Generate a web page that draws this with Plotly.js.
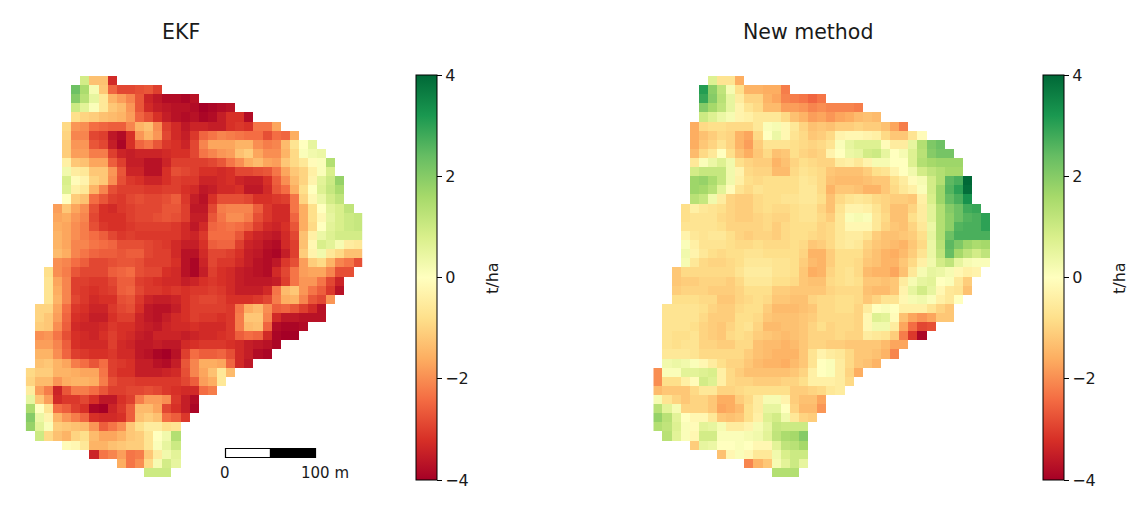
<!DOCTYPE html>
<html><head><meta charset="utf-8">
<script src="https://cdn.plot.ly/plotly-3.0.1.min.js"></script>
<style>html,body{margin:0;padding:0;background:#fff}#p{width:1134px;height:512px}</style></head>
<body><div id="p"></div>
<script>
const rowStart=[6,5,5,5,5,4,4,4,4,4,4,4,4,4,3,3,3,3,3,3,3,2,2,2,2,1,1,1,1,1,1,1,0,0,0,0,0,0,0,1,4,7,10,13];
const rowLast=[9,14,18,22,24,27,29,31,32,33,33,34,34,34,35,36,36,36,36,36,36,35,34,34,33,32,32,30,29,27,26,24,22,21,20,18,18,17,16,16,16,16,16,15];
const ekf=[
[0.9,-1.3,-1.3,-3.3],
[2.3,1.5,0.2,-1.2,-2.5,-2.9,-2.9,-2.8,-2.7,-3.0],
[2.0,1.3,0.5,-0.6,-1.5,-1.8,-2.1,-2.7,-3.4,-3.6,-3.8,-3.8,-3.9,-3.7],
[1.0,0.6,0.1,-0.6,-1.2,-1.4,-1.9,-2.7,-3.3,-3.5,-3.6,-3.7,-3.7,-3.8,-4,-3.9,-3.8,-3.7],
[-0.8,-1.0,-1.1,-1.3,-1.4,-1.5,-1.8,-2.5,-2.8,-3.2,-3.5,-3.7,-3.8,-3.7,-3.9,-3.8,-3.5,-3.2,-3.2,-3.8],
[-0.9,-1.9,-2.0,-2.4,-2.5,-2.6,-2.6,-2.1,-1.5,-1.3,-2.0,-3.0,-3.3,-3.6,-3.4,-3.4,-3.5,-3.5,-3.2,-3.1,-3.2,-2.3,-2.3,-1.7],
[-1.0,-2.1,-2.1,-2.9,-3.0,-3.6,-3.8,-3.2,-1.9,-1.5,-1.9,-2.9,-3.3,-3.5,-3.1,-2.5,-2.3,-2.1,-2.2,-2.3,-2.4,-2.4,-2.8,-2.4,-2.5,-1.6],
[-1.1,-1.9,-1.9,-2.7,-2.9,-3.5,-3.9,-3.2,-2.5,-2.3,-2.7,-3.1,-3.2,-3.4,-2.9,-2.1,-1.7,-1.7,-1.7,-1.5,-1.5,-2.0,-2.2,-2.1,-1.4,-0.7,0.0,0.5],
[-1.1,-1.8,-1.8,-2.2,-2.2,-3.0,-3.4,-3.5,-3.4,-3.4,-3.4,-3.3,-3.2,-3.2,-2.9,-2.3,-2.1,-1.9,-1.8,-1.3,-1.1,-1.7,-2.0,-2.0,-1.5,-0.9,0.1,0.3,0.4],
[-0.4,-1.2,-1.3,-1.7,-1.7,-2.6,-3.0,-3.5,-3.5,-3.7,-3.7,-3.4,-3.0,-3.0,-3.0,-3.0,-2.9,-2.7,-2.3,-2.0,-1.6,-1.4,-1.7,-1.8,-1.2,-0.9,-0.6,-0.1,0.1,1.4],
[0.3,-0.5,-0.6,-1.2,-1.2,-1.9,-2.7,-3.4,-3.4,-3.7,-3.7,-3.2,-2.8,-2.9,-3.0,-3.2,-3.2,-3.3,-3.2,-2.9,-2.9,-2.8,-2.7,-2.3,-1.7,-1.2,-1.0,-0.4,0.1,0.8],
[0.8,-0.1,-0.3,-1.0,-1.2,-2.0,-2.8,-3.1,-3.2,-3.4,-3.4,-3.2,-3.0,-3.1,-3.1,-3.4,-3.4,-3.3,-3.2,-3.4,-3.5,-3.5,-3.2,-2.6,-2.0,-1.4,-1.0,-0.3,0.6,1.0,1.8],
[0.7,-0.4,-0.6,-1.5,-2.1,-2.8,-3.0,-3.0,-3.0,-3.1,-3.1,-3.0,-3.0,-3.2,-3.3,-3.6,-3.5,-3.3,-3.3,-3.2,-3.6,-3.6,-3.3,-2.7,-2.4,-1.6,-0.8,0.0,0.7,1.1,1.5],
[0.0,-1.1,-1.3,-2.4,-2.7,-3.0,-3.1,-2.9,-2.8,-2.9,-2.9,-2.8,-2.6,-3.1,-3.5,-3.7,-3.2,-2.8,-2.8,-2.8,-2.9,-3.2,-3.2,-3.1,-3.0,-2.3,-1.0,-0.2,0.4,0.9,1.2],
[-1.8,-1.2,-1.7,-2.0,-2.8,-3.2,-3.3,-3.1,-3.0,-2.9,-2.9,-2.9,-2.7,-2.7,-3.0,-3.6,-3.6,-2.9,-2.2,-2.1,-2.1,-2.1,-2.6,-3.1,-3.3,-3.3,-2.3,-1.6,-0.8,0.0,0.6,0.8,1.2],
[-1.7,-1.6,-1.9,-2.1,-2.9,-3.2,-3.2,-3.2,-3.0,-2.9,-2.9,-2.8,-2.7,-2.8,-3.0,-3.5,-3.5,-2.7,-2.3,-2.0,-2.0,-2.2,-2.8,-3.1,-3.3,-3.3,-2.5,-1.6,-0.8,-0.2,0.5,0.8,1.0,1.1],
[-1.6,-1.7,-2.0,-2.2,-2.8,-3.1,-3.2,-3.2,-3.1,-3.0,-3.0,-3.0,-3.0,-3.1,-3.3,-3.6,-3.3,-2.5,-2.4,-2.3,-2.4,-2.6,-3.0,-3.3,-3.4,-3.2,-2.7,-1.6,-0.9,0.0,0.6,0.8,1.0,1.1],
[-1.5,-1.7,-2.0,-2.2,-2.4,-2.6,-2.9,-3.1,-3.0,-3.1,-3.1,-3.1,-3.1,-3.1,-3.3,-3.4,-3.1,-2.4,-2.4,-2.4,-2.7,-3.2,-3.4,-3.5,-3.6,-3.3,-2.9,-1.3,-0.4,0.4,0.7,0.9,0.9,0.9],
[-1.5,-1.7,-2.1,-2.1,-2.3,-2.4,-2.5,-2.8,-2.8,-2.8,-2.9,-3.0,-3.1,-3.3,-3.5,-3.5,-3.2,-2.6,-2.5,-2.5,-3.0,-3.4,-3.5,-3.7,-3.8,-3.3,-3.0,-1.3,-0.2,0.8,0.6,0.2,-0.5,-0.6],
[-1.4,-1.6,-2.1,-2.3,-2.5,-2.6,-2.6,-2.7,-2.6,-2.6,-2.9,-3.0,-3.0,-3.3,-3.7,-3.7,-3.3,-2.9,-2.9,-3.0,-3.2,-3.5,-3.6,-3.8,-3.9,-3.5,-3.0,-1.1,-0.3,0.3,-0.6,-0.9,-1.3,-1.3],
[-2.0,-2.1,-2.4,-2.6,-2.9,-2.9,-2.8,-2.7,-2.7,-2.8,-3.0,-3.0,-3.0,-3.2,-3.7,-3.9,-3.4,-2.9,-3.1,-3.1,-3.3,-3.5,-3.7,-3.8,-3.6,-3.1,-2.8,-1.8,-1.1,-0.9,-1.5,-2.1,-2.3,-2.8],
[-0.8,-2.0,-2.2,-2.7,-2.9,-2.9,-2.9,-2.6,-2.5,-2.4,-2.8,-2.9,-2.9,-3.2,-3.3,-3.7,-3.9,-3.5,-3.0,-3.2,-3.3,-3.5,-3.6,-3.7,-3.8,-3.3,-2.9,-2.3,-1.8,-1.7,-1.7,-2.1,-2.8,-2.8],
[-0.7,-1.7,-2.1,-3.0,-3.0,-3.1,-3.1,-2.9,-2.6,-2.6,-3.0,-3.1,-3.2,-3.3,-3.3,-3.5,-3.4,-3.2,-3.1,-3.2,-3.3,-3.5,-3.6,-3.6,-3.6,-3.5,-3.0,-2.3,-1.9,-1.9,-2.3,-2.9,-3.4],
[-0.7,-1.6,-2.1,-3.0,-3.1,-3.2,-3.1,-3.0,-2.6,-2.5,-2.9,-3.1,-3.1,-3.2,-3.1,-3.2,-3.1,-3.1,-3.0,-3.1,-3.3,-3.5,-3.5,-3.5,-3.3,-2.3,-1.4,-1.2,-1.9,-2.3,-2.6,-3.1,-3.7],
[-0.7,-1.5,-2.1,-2.9,-3.1,-3.3,-3.2,-3.2,-2.8,-2.7,-3.1,-3.4,-3.5,-3.5,-3.4,-3.2,-3.0,-2.9,-2.9,-3.0,-3.2,-3.2,-3.2,-3.1,-2.9,-2.2,-1.6,-1.5,-2.1,-2.7,-2.9,-1.9],
[-1.0,-1.0,-1.7,-2.4,-3.1,-3.2,-3.4,-3.4,-3.1,-2.9,-2.8,-3.2,-3.6,-3.7,-3.7,-3.5,-3.2,-3.0,-3.0,-3.0,-3.0,-3.1,-2.3,-1.6,-1.4,-2.0,-2.6,-2.5,-2.7,-3.0,-3.3,-3.7],
[-1.0,-1.2,-1.8,-2.5,-3.2,-3.3,-3.5,-3.5,-3.2,-3.0,-3.0,-3.4,-3.6,-3.7,-3.5,-3.3,-3.2,-3.0,-3.1,-3.1,-3.2,-3.1,-2.2,-1.2,-1.2,-2.1,-3.3,-3.6,-3.6,-3.7,-3.7,-3.7],
[-1.1,-1.2,-2.0,-2.6,-3.3,-3.4,-3.4,-3.3,-3.1,-3.2,-3.2,-3.4,-3.5,-3.6,-3.4,-3.3,-3.3,-3.2,-3.3,-3.3,-3.3,-3.1,-2.2,-1.4,-1.3,-2.5,-3.8,-3.9,-3.9,-3.8],
[-2.0,-1.9,-2.3,-2.8,-3.2,-3.3,-3.4,-3.2,-3.0,-3.2,-3.3,-3.5,-3.6,-3.4,-3.4,-3.4,-3.5,-3.4,-3.3,-3.3,-3.2,-3.1,-2.6,-2.4,-2.5,-3.3,-3.9,-4,-4],
[-1.8,-1.8,-2.1,-2.6,-3.2,-3.3,-3.3,-3.3,-3.0,-3.3,-3.4,-3.6,-3.6,-3.5,-3.6,-3.6,-3.3,-3.2,-3.1,-3.1,-3.1,-3.2,-3.3,-3.5,-3.6,-3.7,-3.9],
[-1.5,-1.5,-2.0,-2.5,-3.0,-3.1,-3.2,-3.2,-3.1,-3.3,-3.3,-3.6,-3.7,-3.9,-4,-3.7,-3.0,-2.4,-2.6,-2.6,-2.5,-2.8,-3.3,-3.5,-3.8,-3.9],
[-1.3,-1.2,-1.5,-1.7,-2.2,-2.4,-2.7,-2.4,-3.0,-3.1,-3.2,-3.5,-3.5,-3.7,-3.8,-3.5,-2.7,-2.1,-1.6,-1.6,-1.7,-2.5,-3.3,-3.6],
[-0.9,-1.1,-1.1,-1.5,-1.5,-1.6,-1.7,-1.7,-2.3,-3.0,-3.2,-3.2,-3.5,-3.5,-3.5,-3.4,-3.3,-2.8,-2.1,-1.7,-1.3,-0.6,-1.4],
[-1.0,-1.4,-1.4,-1.9,-1.6,-1.5,-1.5,-1.6,-2.2,-2.8,-3.0,-3.0,-3.1,-3.1,-3.1,-3.1,-3.1,-2.9,-2.6,-1.8,-1.6,-0.6],
[-0.5,-1.8,-2.2,-3.4,-2.7,-2.2,-2.2,-2.4,-2.7,-3.0,-3.0,-2.9,-2.9,-2.8,-2.9,-3.1,-3.2,-3.3,-3.3,-2.4,-2.2],
[0.5,-1.2,-1.8,-3.3,-3.1,-3.1,-2.9,-3.2,-3.6,-3.6,-3.2,-3.0,-2.2,-1.8,-1.8,-2.0,-3.1,-3.5,-3.8],
[1.5,0.0,-0.7,-2.4,-2.6,-3.0,-3.2,-3.9,-4,-3.4,-3.1,-2.6,-1.4,-1.4,-1.7,-2.9,-3.2,-3.5,-3.9],
[2.0,0.4,-0.3,-1.5,-1.9,-2.2,-2.5,-3.2,-3.3,-3.3,-3.2,-2.6,-1.3,-1.1,-1.3,-2.4,-2.6,-3.1],
[1.8,0.6,0.1,-1.1,-1.2,-1.3,-1.4,-1.9,-2.6,-2.3,-2.0,-1.2,-0.8,-0.5,-0.5,-0.8,-0.7],
[1.0,-0.9,-1.3,-1.5,-1.0,-0.8,-1.4,-1.7,-1.7,-1.5,-1.2,-1.1,-0.7,0.0,0.3,1.4],
[-0.1,-0.2,-0.6,-1.5,-1.5,-1.3,-1.2,-1.1,-1.1,-0.7,0.1,0.5,1.0],
[-3.4,-2.3,-2.1,-1.8,-2.3,-2.2,-1.2,-0.5,0.3,0.6],
[-1.6,-2.3,-2.0,-0.9,0.2,0.9,0.5],
[1.0,1.0,1.0]
];
const newMethod=[
[0.7,-0.7,-0.7,-1.6],
[3.1,1.9,1.2,0.2,-0.8,-1.5,-1.5,-1.6,-1.6,-2.2],
[2.9,2.0,1.3,0.5,-0.5,-1.0,-1.0,-1.5,-1.7,-2.1,-2.2,-2.3,-2.5,-2.3],
[2.0,1.6,1.2,0.5,-0.3,-0.7,-0.9,-1.4,-1.4,-1.8,-1.8,-1.9,-2.1,-2.0,-2.1,-2.1,-2.1,-2.2],
[1.0,0.7,0.4,0.2,-0.3,-0.4,-0.6,-0.6,-0.6,-0.9,-1.3,-1.5,-1.8,-1.7,-1.9,-1.7,-1.6,-1.4,-1.3,-1.4],
[-1.6,-0.9,-0.8,-0.8,-0.9,-0.9,-0.9,-0.6,0.1,0.2,-0.2,-0.6,-1.0,-1.3,-1.2,-1.3,-1.1,-1.1,-1.0,-1.1,-1.1,-1.3,-1.7,-2.2],
[-1.6,-1.3,-1.1,-0.9,-1.0,-1.5,-1.7,-0.9,0.0,0.4,-0.2,-0.7,-0.9,-1.2,-1.1,-0.9,-0.3,-0.2,-0.2,-0.3,-0.4,-0.9,-1.2,-1.2,-0.7,-0.1],
[-1.6,-1.2,-1.0,-0.7,-1.0,-1.5,-1.8,-1.1,-0.7,-0.7,-0.7,-0.8,-0.9,-1.0,-0.9,-0.7,0.1,0.5,0.7,0.7,0.7,-0.1,-0.5,-0.5,0.5,1.4,2.1,2.3],
[-1.4,-0.9,-0.6,0.0,-0.8,-1.3,-1.6,-1.2,-0.9,-1.3,-1.2,-0.8,-1.0,-1.1,-1.0,-0.3,0.0,0.4,0.5,0.9,1.0,0.5,0.0,0.2,0.7,1.3,2.0,2.2,2.2],
[-0.6,0.1,0.4,0.7,0.3,-0.8,-1.0,-1.1,-1.1,-1.5,-1.3,-1.0,-0.8,-0.9,-1.0,-1.0,-0.5,-0.4,-0.6,-0.3,0.2,0.2,0.0,0.0,0.7,1.4,1.6,1.7,1.7,1.7],
[0.9,1.1,1.1,1.1,0.3,-0.3,-0.9,-1.0,-1.0,-1.4,-1.4,-0.9,-0.7,-0.8,-0.9,-1.2,-1.3,-1.3,-1.3,-1.1,-0.8,-0.7,-0.3,0.0,0.3,0.9,1.2,1.4,1.6,1.6],
[1.7,1.8,1.5,1.1,0.3,-0.4,-0.8,-0.9,-0.8,-0.8,-0.8,-0.8,-0.6,-0.7,-0.9,-1.3,-1.4,-1.4,-1.4,-1.3,-1.2,-1.2,-0.8,-0.5,-0.1,0.2,0.9,1.4,2.5,2.7,4.0],
[1.7,1.6,1.3,0.6,-0.1,-0.7,-0.9,-0.7,-0.8,-0.8,-0.8,-0.8,-0.6,-0.6,-0.9,-1.5,-1.2,-1.2,-1.3,-1.5,-1.5,-1.2,-0.9,-0.6,-0.4,0.1,0.9,1.7,2.6,3.0,3.9],
[1.3,1.1,0.3,-0.5,-1.0,-1.1,-1.1,-0.9,-0.8,-0.8,-0.7,-0.7,-0.6,-0.6,-0.8,-1.3,-0.9,-0.7,-0.6,-0.7,-0.9,-1.0,-1.1,-1.1,-1.2,-0.4,0.8,1.7,2.4,2.7,3.3],
[-0.8,-0.4,-0.6,-0.7,-0.8,-1.0,-1.1,-1.1,-0.9,-0.8,-0.9,-0.9,-0.8,-0.7,-0.7,-1.0,-1.3,-0.7,-0.3,-0.3,-0.4,-0.7,-1.0,-1.3,-1.3,-1.0,-0.5,0.6,1.4,2.0,2.3,2.8,2.9],
[-0.8,-0.7,-0.7,-0.7,-0.9,-1.0,-1.1,-1.1,-1.0,-0.9,-1.0,-1.0,-0.8,-0.7,-0.7,-0.9,-1.1,-0.6,0.1,0.2,0.1,-0.6,-0.9,-1.3,-1.3,-0.8,-0.5,0.6,1.4,1.9,2.3,2.6,2.7,3.0],
[-0.7,-0.7,-0.7,-0.7,-0.8,-1.0,-1.0,-1.0,-1.0,-0.9,-1.1,-0.9,-0.8,-0.8,-0.8,-1.0,-0.9,-0.6,-0.2,-0.2,-0.2,-0.6,-1.0,-1.2,-1.3,-1.0,-0.6,0.4,1.4,1.9,2.6,2.7,2.7,3.0],
[-0.3,-0.6,-0.7,-0.6,-0.6,-0.8,-1.0,-1.1,-1.0,-1.0,-1.1,-0.9,-0.8,-0.8,-0.9,-1.0,-0.9,-0.6,-0.5,-0.5,-0.7,-1.1,-1.3,-1.3,-1.2,-1.1,-0.8,0.5,1.4,2.3,2.7,2.7,2.7,2.7],
[0.1,-0.4,-0.7,-0.7,-0.7,-0.8,-0.9,-0.9,-0.8,-0.9,-0.9,-0.9,-0.8,-0.9,-1.2,-1.1,-0.9,-0.6,-0.5,-0.6,-1.0,-1.2,-1.3,-1.4,-1.5,-1.2,-0.9,0.4,1.3,2.5,2.1,1.7,1.5,1.6],
[0.3,-0.3,-0.6,-0.8,-0.9,-0.8,-0.8,-0.7,-0.7,-0.8,-0.8,-0.8,-0.8,-1.0,-1.5,-1.5,-1.1,-0.8,-0.8,-0.8,-1.1,-1.3,-1.5,-1.6,-1.4,-1.1,-0.7,0.4,1.2,2.4,1.6,1.2,0.9,1.2],
[0.2,-0.6,-0.9,-1.0,-1.0,-0.9,-0.8,-0.6,-0.6,-0.6,-0.7,-0.7,-0.8,-1.1,-1.4,-1.5,-1.1,-0.8,-0.8,-0.9,-1.2,-1.3,-1.5,-1.5,-1.2,-0.9,-0.4,0.3,0.9,1.2,0.5,0.2,0.1,0.1],
[-1.2,-0.9,-0.9,-0.9,-0.9,-0.9,-0.9,-0.7,-0.5,-0.5,-0.5,-0.7,-0.7,-0.8,-1.2,-1.6,-1.5,-1.0,-0.8,-0.7,-0.9,-1.4,-1.5,-1.5,-1.7,-1.3,-0.6,0.2,0.5,0.4,0.2,-0.2,-0.4,-0.3],
[-1.2,-1.1,-1.1,-1.0,-1.0,-1.0,-1.1,-0.9,-0.6,-0.6,-0.6,-0.8,-0.8,-0.9,-1.2,-1.3,-1.3,-0.9,-0.8,-0.7,-0.8,-1.2,-1.2,-1.3,-1.2,-0.5,0.2,0.5,0.6,0.0,0.1,-0.6,-1.1],
[-1.1,-1.0,-1.0,-1.0,-1.1,-1.1,-1.1,-1.0,-0.8,-0.8,-0.8,-1.1,-1.1,-1.2,-1.2,-1.2,-1.2,-1.0,-0.9,-0.9,-0.9,-1.3,-1.4,-1.4,-1.2,-0.3,0.5,0.9,0.5,-0.2,-0.6,-0.7,-1.3],
[-0.8,-0.8,-0.8,-0.9,-0.9,-1.2,-1.2,-1.0,-0.9,-0.8,-0.9,-1.2,-1.2,-1.3,-1.3,-1.0,-0.9,-0.9,-0.8,-0.8,-0.9,-1.2,-1.0,-0.7,-0.7,-0.2,0.2,0.3,0.1,-0.4,-0.6,0.0],
[-0.7,-0.7,-0.7,-0.7,-0.8,-1.0,-1.1,-1.1,-0.9,-0.8,-0.8,-1.1,-1.4,-1.4,-1.4,-1.3,-1.2,-0.9,-0.9,-0.8,-0.8,-1.0,-0.5,0.0,0.1,0.0,-0.4,-0.4,-0.4,-0.7,-1.0,-1.2],
[-0.7,-0.7,-0.7,-0.7,-0.9,-1.1,-1.1,-1.1,-0.8,-0.8,-0.9,-1.2,-1.3,-1.3,-1.3,-1.2,-1.1,-0.9,-0.9,-0.9,-0.9,-1.0,-0.2,0.7,0.6,-0.1,-1.3,-1.7,-1.9,-1.7,-1.2,-1.2],
[-0.7,-0.7,-0.7,-0.8,-1.0,-1.1,-1.2,-1.0,-0.8,-0.7,-1.0,-1.4,-1.4,-1.3,-1.3,-1.2,-1.0,-0.8,-1.0,-0.9,-0.9,-1.0,-0.2,0.3,0.3,-0.5,-1.7,-2.4,-2.9,-2.8],
[-0.7,-0.8,-0.8,-0.7,-1.0,-1.1,-1.2,-0.9,-0.8,-0.9,-1.1,-1.2,-1.3,-1.4,-1.3,-1.2,-1.0,-1.0,-1.0,-0.9,-1.0,-1.0,-0.5,-0.6,-0.7,-1.1,-2.2,-3.1,-3.9],
[-0.7,-0.8,-0.7,-0.7,-1.0,-1.0,-1.1,-1.1,-0.9,-0.9,-1.3,-1.4,-1.4,-1.5,-1.4,-1.2,-1.0,-1.0,-1.1,-1.1,-1.2,-1.2,-1.2,-1.2,-1.4,-1.7,-1.7],
[-0.6,-0.6,-0.6,-0.7,-0.9,-0.9,-0.9,-0.9,-0.9,-1.1,-1.3,-1.4,-1.5,-1.5,-1.5,-1.2,-0.7,-0.3,-0.5,-0.6,-0.9,-1.2,-1.2,-1.3,-1.5,-2.1],
[0.3,0.4,0.3,0.1,-0.2,-0.5,-0.8,-1.0,-1.0,-1.2,-1.4,-1.5,-1.5,-1.6,-1.4,-1.2,-0.7,0.0,0.1,-0.5,-0.9,-1.2,-1.3,-1.5],
[-2.0,0.1,0.1,0.6,0.6,0.7,0.8,-0.4,-0.9,-1.1,-1.3,-1.3,-1.3,-1.3,-1.3,-1.2,-1.0,-0.4,0.0,0.1,-0.5,-1.0,-1.6],
[-2.0,-0.8,-0.8,-0.4,-0.1,0.9,0.7,-0.4,-0.9,-1.0,-1.0,-1.1,-1.1,-1.1,-1.0,-1.0,-0.8,-0.4,-0.4,-0.4,-0.5,-0.9],
[-1.4,-1.2,-1.2,-1.2,-0.9,-0.6,-0.6,-1.0,-1.0,-0.9,-0.8,-0.8,-0.8,-0.8,-0.8,-1.1,-1.1,-1.0,-0.9,-0.6,-0.5],
[0.2,-0.7,-1.0,-1.2,-1.0,-1.0,-1.2,-1.6,-1.6,-1.1,-0.9,-0.5,0.2,0.2,-0.3,-1.1,-1.3,-1.3,-1.7],
[1.3,0.6,0.2,-1.0,-1.0,-1.0,-1.2,-1.7,-1.6,-1.4,-0.8,-0.5,0.5,0.5,0.0,-1.0,-1.4,-1.4,-1.9],
[1.8,1.3,0.6,0.0,-0.2,-0.2,-0.6,-1.2,-1.3,-1.2,-0.8,-0.4,0.7,0.9,0.3,-0.6,-1.0,-1.1],
[1.4,1.2,0.7,0.1,-0.1,0.6,0.5,0.2,-0.5,-0.5,-0.3,0.2,0.5,1.1,1.0,1.0,1.0],
[1.3,0.6,0.1,-0.2,0.9,0.9,0.1,0.1,0.1,0.2,0.3,0.6,1.2,1.5,1.6,2.0],
[-1.1,0.5,0.4,0.0,0.0,0.1,0.0,-0.2,-0.2,0.6,1.2,1.3,1.6],
[-1.3,-0.2,0.1,-0.2,-0.6,-0.6,0.3,0.8,1.0,1.0],
[-2.1,-1.5,-1.2,0.2,0.6,1.0,0.5],
[1.4,1.4,1.4]
];
const colorScale=[[0,'#a50026'],[0.1,'#d73027'],[0.2,'#f46d43'],[0.3,'#fdae61'],[0.4,'#fee08b'],[0.5,'#ffffbf'],[0.6,'#d9ef8b'],[0.7,'#a6d96a'],[0.8,'#66bd63'],[0.9,'#1a9850'],[1,'#006837']];
const cbTicks=[-4,-2,0,2,4];
const cbLabels=['\u22124','\u22122','0','2','4'];
const panelTitles=['EKF','New method'];
const unitLabel='t/ha';
const W=1134,H=512,nCols=37;
function grid(rows){return rows.map((vals,r)=>{
  const line=new Array(nCols).fill(null);
  vals.forEach((v,i)=>{line[rowStart[r]+i]=v;});
  return line;});}
const font='"DejaVu Sans", sans-serif',ink='#1a1a1a';
function hm(rows,xa,ya,cbx){return {type:'heatmap',z:grid(rows),xaxis:xa,yaxis:ya,zmin:-4,zmax:4,zsmooth:false,
  colorscale:colorScale,hoverongaps:false,
  colorbar:{x:cbx/W,xanchor:'left',xref:'paper',y:1-277.5/H,yanchor:'middle',yref:'paper',len:405/H,lenmode:'fraction',thickness:21,thicknessmode:'pixels',
   outlinecolor:'#000',outlinewidth:1,ticks:'outside',ticklen:5,tickwidth:1,tickcolor:'#000',tickmode:'array',tickvals:cbTicks,ticktext:cbLabels,tickprefix:'\u2009',
   tickfont:{family:font,size:16,color:ink},xpad:0,ypad:0}};}
const hidden={visible:false,fixedrange:true};
const px=x=>x/W,py=y=>1-y/H;
const ann=(t,x,y,s,a)=>({text:t,xref:'paper',yref:'paper',x:px(x),y:py(y),xanchor:'center',yanchor:'middle',showarrow:false,textangle:a||0,font:{family:font,size:s,color:ink}});
const layout={width:W,height:H,margin:{l:0,r:0,t:0,b:0},paper_bgcolor:'#fff',plot_bgcolor:'#fff',showlegend:false,
 xaxis:{...hidden,domain:[px(25.7),px(362.3)],range:[-0.5,36.5]},
 yaxis:{...hidden,domain:[py(477.3),py(76)],range:[43.5,-0.5]},
 xaxis2:{...hidden,domain:[px(653.3),px(990)],range:[-0.5,36.5]},
 yaxis2:{...hidden,domain:[py(477.3),py(76)],range:[43.5,-0.5]},
 annotations:[ann(panelTitles[0],181,32,20.5),ann(panelTitles[1],808,32,20.5),ann('0',224.5,473,15),ann('100 m',325,473,15),
  ann(unitLabel,492,278,16,-90),ann(unitLabel,1119,278,16,-90)],
 shapes:[
  {type:'rect',xref:'paper',yref:'paper',x0:px(225.5),x1:px(270.5),y0:py(457.5),y1:py(448.5),fillcolor:'#fff',line:{color:'#000',width:1.2}},
  {type:'rect',xref:'paper',yref:'paper',x0:px(270.5),x1:px(315.5),y0:py(457.5),y1:py(448.5),fillcolor:'#000',line:{color:'#000',width:1.2}}
 ]};
Plotly.newPlot('p',[hm(ekf,'x','y',416),hm(newMethod,'x2','y2',1043)],layout,{displayModeBar:false,responsive:false});
</script></body></html>
